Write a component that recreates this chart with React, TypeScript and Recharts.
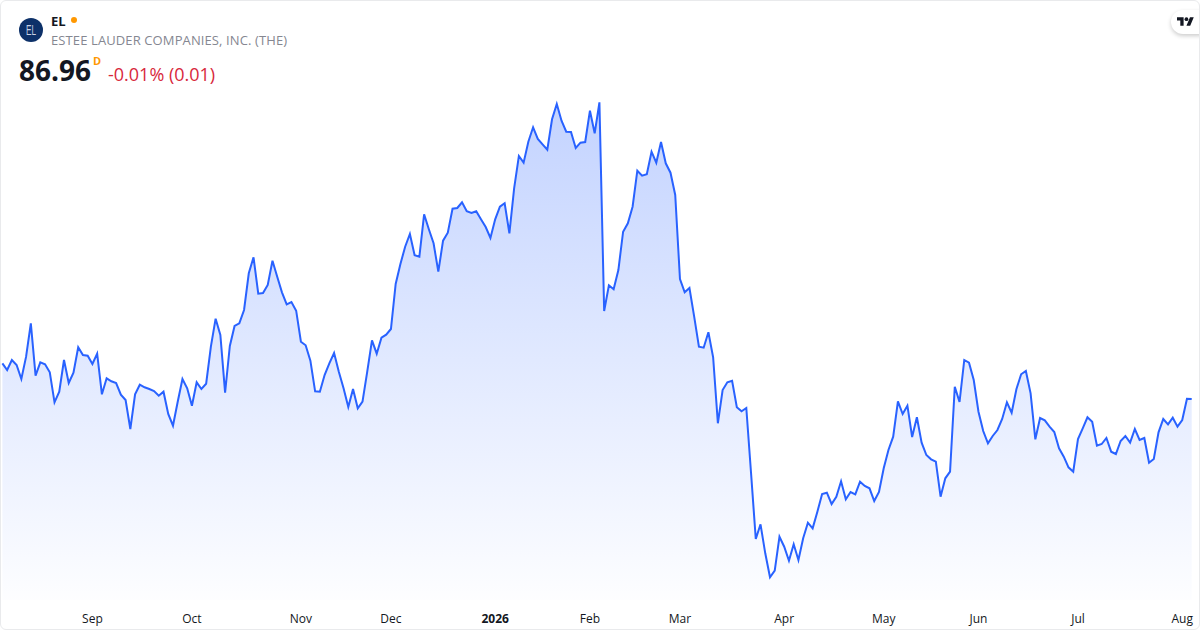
import React from 'react';
import { ComposedChart, Area, XAxis, YAxis } from 'recharts';

const pricesAugToDec = [
  90.53, 89.86, 90.86, 90.36, 88.96, 91.19, 94.53, 89.29, 90.63, 90.43, 89.63, 86.63, 87.69, 90.86, 88.56, 89.59,
  92.13, 91.36, 91.29, 90.46, 91.49, 87.43, 89.03, 88.73, 88.56, 87.39, 86.86, 83.96, 87.43, 88.39, 88.13, 87.96,
  87.76, 87.29, 87.69, 85.46, 84.29, 86.69, 88.96, 88.03, 86.29, 88.63, 87.96, 88.49, 92.19, 94.99, 93.36, 87.59,
  92.26, 94.26, 94.53, 95.86, 99.53, 101.13, 97.49, 97.56, 98.36, 100.79, 99.19, 97.63, 96.43, 96.66, 95.79, 92.69,
  92.33, 90.79, 87.73, 87.69, 89.36, 90.53, 91.56, 89.69, 88.03, 86.16, 87.96, 86.03, 86.69, 89.69, 92.83, 91.49,
  93.09, 93.39, 93.96, 98.46, 100.46,
];

const pricesDecToMar = [
  102.19, 103.46, 101.33, 101.19, 105.43, 103.93, 102.53, 99.69, 102.79, 103.59, 105.99, 106.06, 106.63, 105.73,
  105.56, 105.73, 104.93, 104.16, 103.06, 104.93, 106.19, 106.53, 103.53, 108.03, 111.26, 110.59, 112.69, 114.13,
  112.96, 112.43, 111.89, 114.93, 116.46, 114.79, 113.69, 113.66, 112.06, 112.59, 112.66, 115.79, 113.53, 116.63,
  95.76, 98.33, 97.93, 99.86, 103.69, 104.53, 106.19, 109.79, 109.29, 109.43, 111.69, 110.59, 112.66, 110.53,
  109.59, 107.36, 98.96, 97.63, 98.06,
];

const pricesMarToAug = [
  95.19, 92.19, 92.09, 93.63, 91.13, 84.53, 87.86, 88.63, 88.79, 86.13, 85.73, 86.06, 79.56, 72.96, 74.43, 71.53,
  69.13, 69.79, 73.19, 72.19, 70.79, 72.43, 70.86, 73.03, 74.59, 74.03, 75.69, 77.46, 77.59, 76.46, 77.19, 78.73,
  76.93, 77.66, 77.43, 78.69, 78.26, 78.03, 76.76, 77.66, 80.03, 81.86, 83.19, 86.73, 85.46, 86.29, 83.16, 85.13,
  82.59, 81.36, 80.93, 80.69, 77.19, 79.03, 79.69, 88.19, 86.66, 90.86, 90.59, 88.86, 85.69, 83.76, 82.53, 83.26,
  83.86, 84.96, 86.63, 85.59, 87.93, 89.43, 89.76, 87.53, 82.93, 85.06, 84.83, 84.19, 83.66, 82.03, 81.19, 80.13,
  79.69, 82.96, 84.03, 85.13, 84.69, 82.29, 82.46, 83.06, 81.69, 81.46, 82.76, 83.26, 82.59, 83.96, 82.86, 83.06,
  80.59, 80.96, 83.63, 84.96, 84.43, 85.09, 84.19, 84.86, 86.99, 86.96,
];

const tickDays = [19, 40, 63, 82, 104, 124, 143, 165, 186, 206, 227, 249];
const tickLabels = ['Sep', 'Oct', 'Nov', 'Dec', '2026', 'Feb', 'Mar', 'Apr', 'May', 'Jun', 'Jul', 'Aug'];

const prices = [...pricesAugToDec, ...pricesDecToMar, ...pricesMarToAug];
const data = prices.map((price, day) => ({ day, price }));

const FONT = '"Open Sans", sans-serif';

const MonthTick = (props: any) => {
  const { x, y, payload } = props;
  const label = tickLabels[tickDays.indexOf(payload.value)];
  return (
    <text
      x={x}
      y={y + 12}
      textAnchor="middle"
      dominantBaseline="central"
      fontFamily={FONT}
      fontSize={12}
      fontWeight={label === '2026' ? 700 : 400}
      fill="#131722"
    >
      {label}
    </text>
  );
};

const App: React.FC = () => {
  return (
    <div
      style={{
        position: 'absolute',
        left: 0,
        top: 0,
        width: 1200,
        height: 630,
        boxSizing: 'border-box',
        border: '1px solid #e9eaec',
        borderRadius: 6,
        background: '#fff',
        overflow: 'hidden',
        fontFamily: FONT,
      }}
    >
      <div style={{ position: 'absolute', left: -1, top: -1 }}>
        <ComposedChart width={1200} height={630} data={data} margin={{ top: 0, right: 8.3, bottom: 0, left: 2.4 }}>
          <defs>
            <linearGradient id="priceFill" x1="0" y1="0" x2="0" y2="1">
              <stop offset="0%" stopColor="#2962ff" stopOpacity={0.28} />
              <stop offset="100%" stopColor="#2962ff" stopOpacity={0.01} />
            </linearGradient>
          </defs>
          <XAxis
            dataKey="day"
            type="number"
            domain={[0, 251]}
            ticks={tickDays}
            interval={0}
            height={30}
            axisLine={false}
            tickLine={false}
            tickMargin={0}
            tick={<MonthTick />}
          />
          <YAxis hide domain={[66.86, 126.86]} allowDataOverflow />
          <Area
            type="linear"
            dataKey="price"
            stroke="#2962ff"
            strokeWidth={2}
            fill="url(#priceFill)"
            fillOpacity={1}
            dot={false}
            activeDot={false}
            isAnimationActive={false}
          />
        </ComposedChart>
      </div>

      <svg width={26} height={26} style={{ position: 'absolute', left: 17, top: 16 }}>
        <circle cx={13} cy={13} r={12} fill="#0d3169" />
        <text
          x={13}
          y={18}
          textAnchor="middle"
          fontFamily="Liberation Sans"
          fontSize={15}
          textLength={10}
          lengthAdjust="spacingAndGlyphs"
          fill="#c9d3e4"
        >
          EL
        </text>
      </svg>
      <div style={{ position: 'absolute', left: 50, top: 11, fontSize: 13, fontWeight: 700, lineHeight: '18px', color: '#131722' }}>
        EL
      </div>
      <div style={{ position: 'absolute', left: 70, top: 16, width: 6, height: 6, borderRadius: 3, background: '#ff9800' }} />
      <div style={{ position: 'absolute', left: 50, top: 30, fontSize: 13, lineHeight: '18px', letterSpacing: 0.11, color: '#858791', whiteSpace: 'nowrap' }}>
        ESTEE LAUDER COMPANIES, INC. (THE)
      </div>
      <div style={{ position: 'absolute', left: 18, top: 50, fontSize: 28, fontWeight: 700, lineHeight: '38px', color: '#131722' }}>
        86.96
      </div>
      <div style={{ position: 'absolute', left: 92, top: 52, fontSize: 11, fontWeight: 700, lineHeight: '15px', color: '#ff9800' }}>
        D
      </div>
      <div style={{ position: 'absolute', left: 107, top: 61, fontSize: 18, lineHeight: '24px', color: '#d8283c', whiteSpace: 'nowrap' }}>
        -0.01% (0.01)
      </div>

      <div
        style={{
          position: 'absolute',
          left: 1170,
          top: 9,
          width: 40,
          height: 24,
          borderRadius: 12,
          background: '#fff',
          boxShadow: '0 2px 4px rgba(0,0,0,0.2)',
        }}
      />
      <svg width={17} height={14} viewBox="0 0 36 28" style={{ position: 'absolute', left: 1176, top: 14 }}>
        <path d="M14 22H7V11H0V4h14v18zM28 22h-8l7.5-18h8L28 22z" fill="#131722" />
        <circle cx={20} cy={8} r={4} fill="#131722" />
      </svg>
    </div>
  );
};

export default App;
